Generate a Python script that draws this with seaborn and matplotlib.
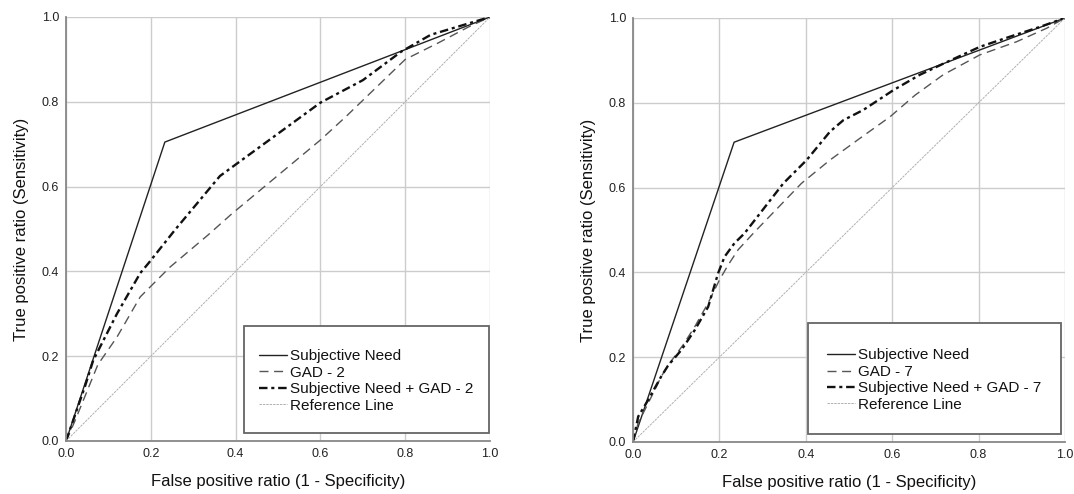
"""
ROC 曲线对比图：主观需求 vs GAD-2 / GAD-7 及二者联合
"""

import pandas as pd
import matplotlib
matplotlib.use('Agg')
import matplotlib.pyplot as plt
from matplotlib.patches import Rectangle
import seaborn as sns

sns.set_style('whitegrid', {'grid.color': '#cccccc', 'axes.edgecolor': '#808080'})
plt.rcParams['font.family'] = ['Liberation Sans', 'DejaVu Sans']

# ---- 数据 ----
# 左图：GAD - 2
need_fpr_l = [0, 0.233, 1]
need_tpr_l = [0, 0.705, 1]
gad2_fpr = [0, 0.02, 0.075, 0.12, 0.175, 0.245, 0.335, 0.39, 0.6, 0.66, 0.8, 0.88, 0.95, 1]
gad2_tpr = [0, 0.045, 0.18, 0.245, 0.34, 0.41, 0.486, 0.535, 0.71, 0.765, 0.9, 0.94, 0.977, 1]
comb2_fpr = [0, 0.045, 0.064, 0.12, 0.175, 0.195, 0.257, 0.363, 0.6, 0.7, 0.79, 0.86, 0.95, 1]
comb2_tpr = [0, 0.13, 0.19, 0.30, 0.396, 0.42, 0.498, 0.625, 0.798, 0.851, 0.918, 0.958, 0.985, 1]

# 右图：GAD - 7
need_fpr_r = [0, 0.234, 1]
need_tpr_r = [0, 0.707, 1]
gad7_fpr = [0, 0.012, 0.027, 0.054, 0.065, 0.085, 0.116, 0.143, 0.174, 0.20, 0.22, 0.243,
            0.282, 0.39, 0.456, 0.525, 0.595, 0.653, 0.718, 0.803, 0.888, 0.958, 1]
gad7_tpr = [0, 0.045, 0.075, 0.13, 0.154, 0.186, 0.229, 0.272, 0.328, 0.382, 0.417, 0.453,
            0.496, 0.61, 0.665, 0.716, 0.767, 0.818, 0.866, 0.913, 0.944, 0.976, 1]
comb7_fpr = [0, 0.012, 0.035, 0.065, 0.081, 0.112, 0.143, 0.174, 0.197, 0.212, 0.235, 0.258,
             0.348, 0.402, 0.456, 0.487, 0.533, 0.603, 0.664, 0.72, 0.803, 0.873, 0.942, 1]
comb7_tpr = [0, 0.06, 0.099, 0.154, 0.18, 0.217, 0.264, 0.319, 0.398, 0.437, 0.469, 0.492,
             0.61, 0.665, 0.732, 0.759, 0.783, 0.83, 0.866, 0.893, 0.932, 0.956, 0.979, 1]

ref_line = [0, 1]
ticks = [0.0, 0.2, 0.4, 0.6, 0.8, 1.0]
tick_labels = ['0.0', '0.2', '0.4', '0.6', '0.8', '1.0']


def draw_panel(ax, need, gad, comb, gad_name, leg_pos):
    """绘制单个 ROC 面板。"""
    sns.lineplot(x=need[0], y=need[1], ax=ax, color='#222222', lw=1.0,
                 sort=False, estimator=None, label='Subjective Need')
    sns.lineplot(x=gad[0], y=gad[1], ax=ax, color='#555555', lw=1.0,
                 linestyle=(0, (6.5, 4)), sort=False, estimator=None, label=gad_name)
    sns.lineplot(x=comb[0], y=comb[1], ax=ax, color='#111111', lw=1.7,
                 linestyle=(0, (3.6, 1.6, 1.3, 1.6)), sort=False, estimator=None,
                 label='Subjective Need + ' + gad_name)
    sns.lineplot(x=ref_line, y=ref_line, ax=ax, color='#b0b0b0', lw=0.7,
                 linestyle=(0, (2.5, 1.0)), sort=False, estimator=None, label='Reference Line')

    ax.set_xlim(0, 1)
    ax.set_ylim(0, 1)
    ax.set_xticks(ticks)
    ax.set_yticks(ticks)
    ax.set_xticklabels(tick_labels)
    ax.set_yticklabels(tick_labels)
    ax.tick_params(length=0, pad=5, labelsize=9, colors='#222222')
    ax.grid(True, color='#cccccc', lw=1.0)
    for s in ['top', 'right']:
        ax.spines[s].set_visible(False)
    for s in ['left', 'bottom']:
        ax.spines[s].set_color('#888888')
        ax.spines[s].set_linewidth(1.3)
    ax.set_xlabel('False positive ratio (1 - Specificity)', fontsize=12, labelpad=10, color='#111111')
    ax.set_ylabel('True positive ratio (Sensitivity)', fontsize=12, labelpad=9, color='#111111')

    # 图例外框
    bx0, by0, bx1, by1, lx, ly = leg_pos
    ax.add_patch(Rectangle((bx0, by0), bx1 - bx0, by1 - by0, transform=ax.transAxes,
                           fill=True, facecolor='white', edgecolor='#666666', lw=1.3,
                           zorder=5, clip_on=False))
    leg = ax.legend(loc='center left', bbox_to_anchor=(lx, ly), frameon=False, fontsize=11,
                    handlelength=1.85, handletextpad=0.2, labelspacing=0.16,
                    borderpad=0, borderaxespad=0)
    leg.set_zorder(6)
    for t in leg.get_texts():
        t.set_color('#111111')


fig = plt.figure(figsize=(10.74, 4.94), dpi=100)
ax1 = fig.add_axes([0.0615, 0.1073, 0.3948, 0.8583])
ax2 = fig.add_axes([0.5894, 0.1053, 0.4022, 0.8583])

draw_panel(ax1, (need_fpr_l, need_tpr_l), (gad2_fpr, gad2_tpr), (comb2_fpr, comb2_tpr),
           'GAD - 2', (0.42, 0.019, 0.998, 0.271, 0.455, 0.1415))
draw_panel(ax2, (need_fpr_r, need_tpr_r), (gad7_fpr, gad7_tpr), (comb7_fpr, comb7_tpr),
           'GAD - 7', (0.405, 0.019, 0.991, 0.281, 0.449, 0.146))

fig.savefig('out.png', dpi=100, facecolor='white')
